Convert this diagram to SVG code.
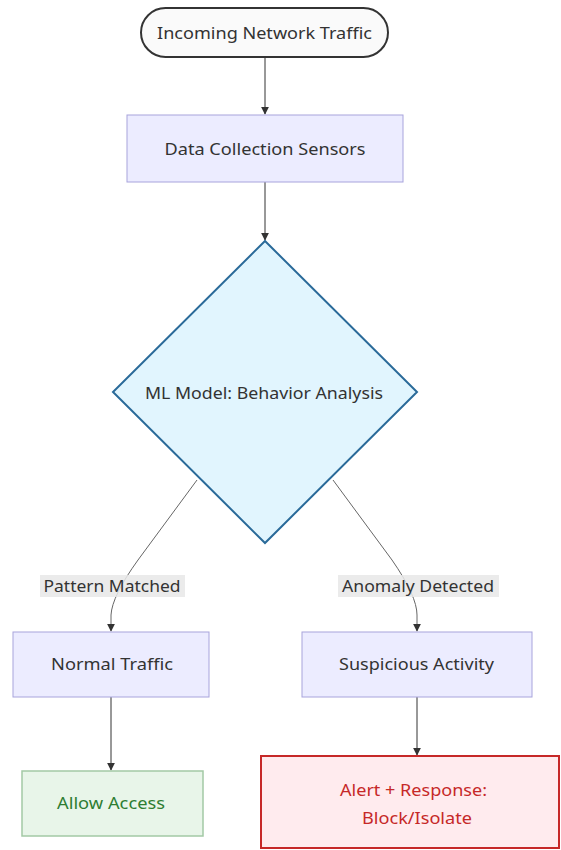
<svg xmlns="http://www.w3.org/2000/svg" width="561" height="850" viewBox="0 0 561 850">
<defs>
<marker id="arr" viewBox="0 0 10 10" refX="9" refY="5" markerWidth="8" markerHeight="8" markerUnits="userSpaceOnUse" orient="auto">
<path d="M0,0 L10,5 L0,10 z" fill="#333"/>
</marker>
<style>
text{font-family:"Noto Sans","Open Sans","DejaVu Sans",sans-serif;font-size:16px;fill:#333;text-anchor:middle;dominant-baseline:central}
.proc{fill:#ECECFF;stroke:#a8a4dc;stroke-width:1}
.edge{fill:none;stroke:#333;stroke-width:1;marker-end:url(#arr)}
.diag{fill:none;stroke:#666;stroke-width:1;marker-end:url(#arr)}
.lbl{fill:#e8e8e8;opacity:0.85}
</style>
</defs>
<rect width="561" height="850" fill="#fff"/>
<g id="connectors">
<path class="edge" d="M265,57 L265,114"/>
<path class="edge" d="M265,182 L265,240"/>
<path class="diag" d="M197,480 L138,560 Q112,596 111,615 L111,631"/>
<path class="diag" d="M333,480 L392,560 Q417,596 417,615 L417,631"/>
<path class="edge" d="M111,697 L111,770"/>
<path class="edge" d="M417,697 L417,755"/>
</g>
<g id="edge-labels">
<rect class="lbl" x="40" y="575" width="145" height="22"/>
<text x="112" y="586" textLength="137" lengthAdjust="spacingAndGlyphs">Pattern Matched</text>
<rect class="lbl" x="338" y="575" width="161" height="22"/>
<text x="418" y="586" textLength="152" lengthAdjust="spacingAndGlyphs">Anomaly Detected</text>
</g>
<g id="start">
<rect x="141" y="8" width="247" height="49" rx="24.5" ry="24.5" fill="#fafafa" stroke="#333" stroke-width="2"/>
<text x="264.5" y="32.5" textLength="215" lengthAdjust="spacingAndGlyphs">Incoming Network Traffic</text>
</g>
<g id="sensors">
<rect class="proc" x="127" y="115" width="276" height="67"/>
<text x="265" y="148.5" textLength="201" lengthAdjust="spacingAndGlyphs">Data Collection Sensors</text>
</g>
<g id="model">
<polygon points="265,241 417,392 265,543 113,392" fill="#e1f5fe" stroke="#2a6a99" stroke-width="2"/>
<text x="264" y="393" textLength="238" lengthAdjust="spacingAndGlyphs">ML Model: Behavior Analysis</text>
</g>
<g id="normal">
<rect class="proc" x="13" y="632" width="196" height="65"/>
<text x="112" y="664" textLength="122" lengthAdjust="spacingAndGlyphs">Normal Traffic</text>
</g>
<g id="suspicious">
<rect class="proc" x="302" y="632" width="230" height="65"/>
<text x="416.5" y="664" textLength="155" lengthAdjust="spacingAndGlyphs">Suspicious Activity</text>
</g>
<g id="allow">
<rect x="22" y="771" width="181" height="65" fill="#e8f5e9" stroke="#a3c9a5" stroke-width="1.5"/>
<text x="111" y="803" textLength="108" lengthAdjust="spacingAndGlyphs" style="fill:#2e7d32">Allow Access</text>
</g>
<g id="alert">
<rect x="261" y="756" width="298" height="92" fill="#ffebee" stroke="#c62828" stroke-width="2"/>
<text x="413.5" y="790" textLength="147" lengthAdjust="spacingAndGlyphs" style="fill:#c62828">Alert + Response:</text>
<text x="417" y="818" textLength="110" lengthAdjust="spacingAndGlyphs" style="fill:#c62828">Block/Isolate</text>
</g>
</svg>
